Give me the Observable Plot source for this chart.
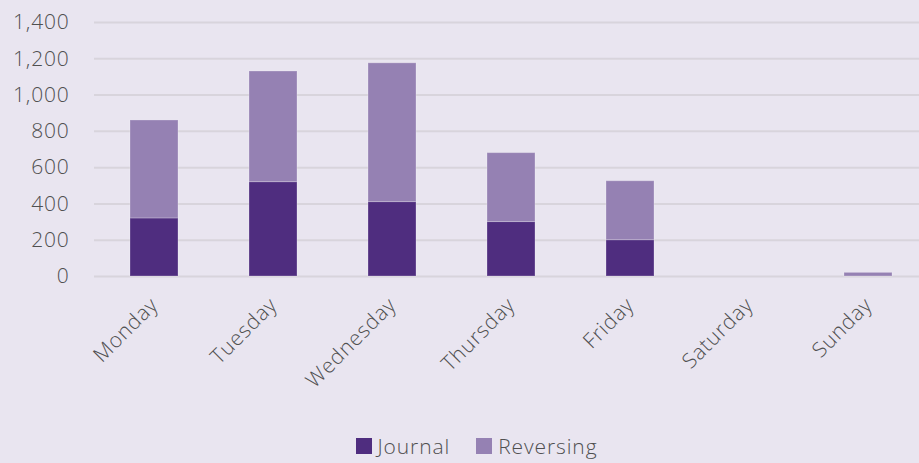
<!DOCTYPE html>
<html>
<head>
<meta charset="utf-8">
<script src="https://cdn.jsdelivr.net/npm/d3@7"></script>
<script src="https://cdn.jsdelivr.net/npm/@observablehq/plot@0.6"></script>
<style>
  html, body { margin: 0; padding: 0; background: #e9e5f0; }
  body { width: 919px; height: 463px; overflow: hidden; font-family: "Open Sans", sans-serif; }
  #legend { display: flex; justify-content: center; gap: 26px; font-size: 21px; font-weight: 300; letter-spacing: 0.9px; color: #505050; margin-top: 8px; padding-left: 34px; line-height: 26px; }
  .item { display: flex; align-items: center; gap: 6px; }
  .sw { width: 16px; height: 16px; display: inline-block; }
  svg text { font-weight: 300; letter-spacing: 0.8px; }
</style>
</head>
<body>
<div id="chart"></div>
<div id="legend"></div>
<script>
const days = ["Monday", "Tuesday", "Wednesday", "Thursday", "Friday", "Saturday", "Sunday"];
const series = ["Journal", "Reversing"];
const journal = [320, 520, 410, 300, 200, 0, 0];
const reversing = [540, 610, 765, 380, 325, 0, 20];
const colors = ["#4f2d7f", "#9581b3"];
const yTicks = [0, 200, 400, 600, 800, 1000, 1200, 1400];

const rows = [];
days.forEach((d, i) => {
  rows.push({day: d, series: "Journal", value: journal[i]});
  rows.push({day: d, series: "Reversing", value: reversing[i]});
});

const chart = Plot.plot({
  width: 919,
  height: 425,
  marginLeft: 94,
  marginRight: 0,
  marginTop: 22,
  marginBottom: 149,
  style: {background: "#e9e5f0", fontFamily: "Open Sans, sans-serif", fontSize: "21px", color: "#505050"},
  x: {domain: days, range: [94.5, 927.5], paddingInner: 0.597, paddingOuter: 0.2985, label: null},
  y: {domain: [0, 1400], label: null},
  color: {domain: series, range: colors},
  marks: [
    Plot.gridY(yTicks, {stroke: "#d8d4dc", strokeOpacity: 1, strokeWidth: 2}),
    Plot.barY(rows, {x: "day", y: "value", fill: "series", stroke: "#ffffff", strokeOpacity: 0.25, strokeWidth: 1}),
    Plot.axisY(yTicks, {tickSize: 0, tickPadding: 25, tickFormat: d3.format(","), fill: "#505050", fontSize: 21}),
    Plot.axisX({tickSize: 0, tickRotate: -45, tickPadding: 25, fill: "#505050", fontSize: 21, textAnchor: "end"})
  ]
});
document.getElementById("chart").appendChild(chart);

const legend = document.getElementById("legend");
series.forEach((s, i) => {
  const it = document.createElement("div");
  it.className = "item";
  const sw = document.createElement("span");
  sw.className = "sw";
  sw.style.background = colors[i];
  const t = document.createElement("span");
  t.textContent = s;
  it.appendChild(sw);
  it.appendChild(t);
  legend.appendChild(it);
});
</script>
</body>
</html>
